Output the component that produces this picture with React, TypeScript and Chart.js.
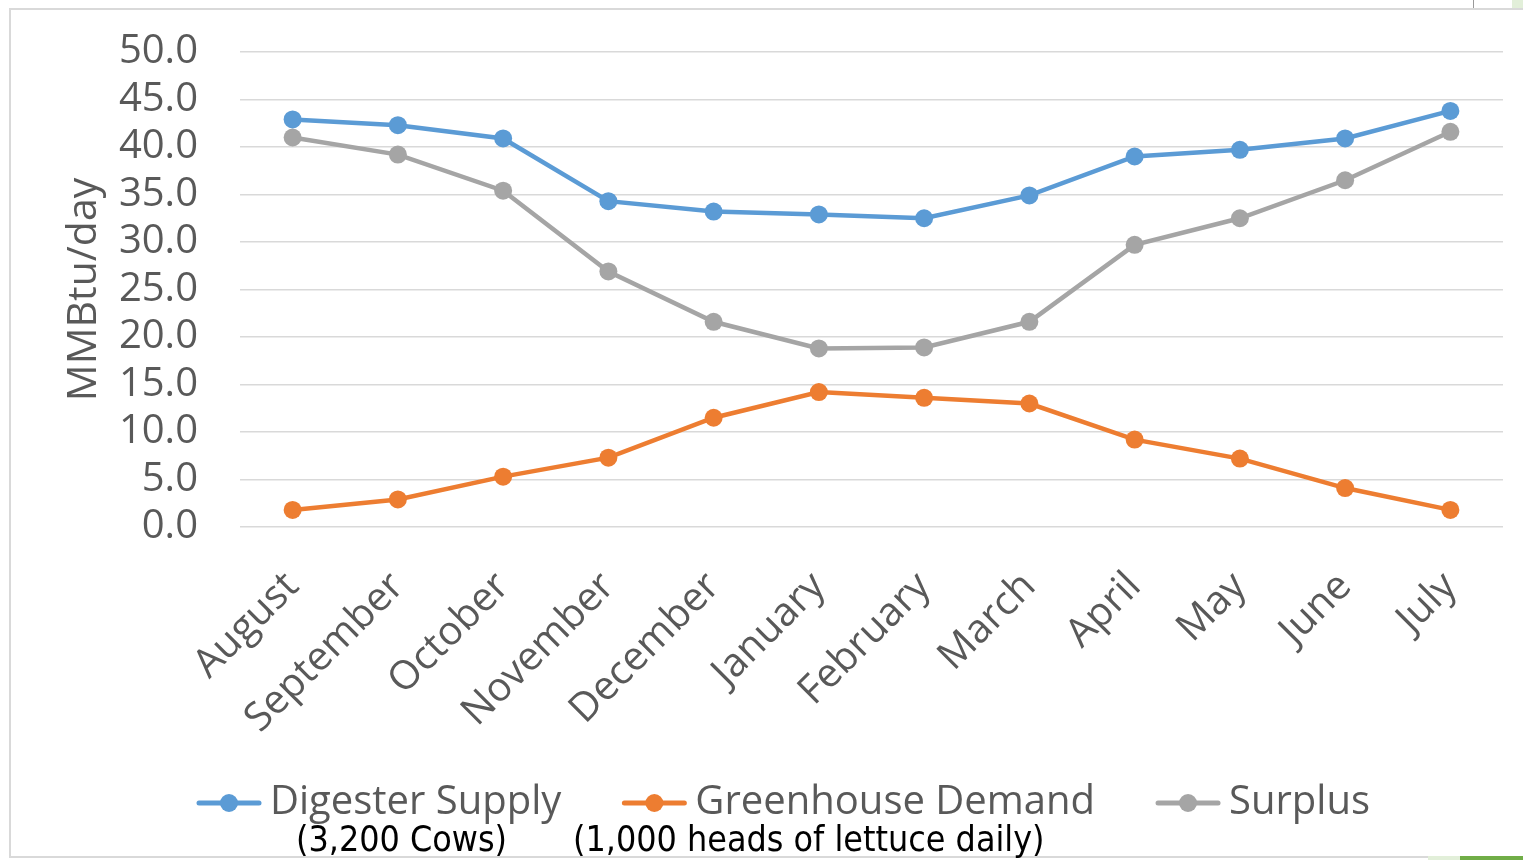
import React, { useEffect, useRef } from "react";
import { Chart, registerables } from "chart.js";

Chart.register(...registerables);

const months = [
  "August", "September", "October", "November", "December", "January",
  "February", "March", "April", "May", "June", "July",
];
const digesterSupply = [42.9, 42.3, 40.9, 34.3, 33.2, 32.9, 32.5, 34.9, 39.0, 39.7, 40.9, 43.8];
const greenhouseDemand = [1.8, 2.9, 5.3, 7.3, 11.5, 14.2, 13.6, 13.0, 9.2, 7.2, 4.1, 1.8];
const surplus = [41.0, 39.2, 35.4, 26.9, 21.6, 18.8, 18.9, 21.6, 29.7, 32.5, 36.5, 41.6];
const seriesNames = ["Digester Supply", "Greenhouse Demand", "Surplus"];
const seriesColors = ["#5B9BD5", "#ED7D31", "#A5A5A5"];
const yTitle = "MMBtu/day";
const footnotes = ["(3,200 Cows)", "(1,000 heads of lettuce daily)"];

const FONT = "'Open Sans', sans-serif";
const TEXT = "#595959";
const SIZE = 40;

// Bottom legend: line-and-dot marker followed by the series name
const lineLegend = {
  id: "lineLegend",
  afterDraw(chart: any) {
    const ctx = chart.ctx as CanvasRenderingContext2D;
    const markerW = 66;
    const gap = 8;
    const spacing = 60;
    const cy = 793;
    ctx.save();
    ctx.font = `${SIZE}px ${FONT}`;
    let x = 186;
    chart.data.datasets.forEach((d: any, i: number) => {
      const color = seriesColors[i];
      ctx.strokeStyle = color;
      ctx.lineWidth = 5;
      ctx.lineCap = "round";
      ctx.beginPath();
      ctx.moveTo(x + 3, cy);
      ctx.lineTo(x + markerW - 3, cy);
      ctx.stroke();
      ctx.fillStyle = color;
      ctx.beginPath();
      ctx.arc(x + markerW / 2, cy, 9, 0, Math.PI * 2);
      ctx.fill();
      ctx.fillStyle = TEXT;
      ctx.textAlign = "left";
      ctx.textBaseline = "middle";
      ctx.fillText(d.label, x + markerW + gap, cy);
      x += markerW + gap + ctx.measureText(d.label).width + spacing;
    });
    ctx.restore();
  },
};

export default function App() {
  const ref = useRef<HTMLCanvasElement | null>(null);

  useEffect(() => {
    const values = [digesterSupply, greenhouseDemand, surplus];
    const chart = new Chart(ref.current!, {
      type: "line",
      data: {
        labels: months,
        datasets: values.map((v, i) => ({
          label: seriesNames[i],
          data: v,
          borderColor: seriesColors[i],
          backgroundColor: seriesColors[i],
          borderWidth: 4.5,
          pointRadius: 9,
          pointBorderWidth: 0,
          pointStyle: "circle",
          tension: 0,
        })),
      },
      options: {
        animation: false,
        responsive: false,
        layout: { padding: { top: 42, right: 10, left: 0, bottom: 28 } },
        plugins: {
          tooltip: { enabled: false },
          legend: { display: false },
        },
        scales: {
          x: {
            offset: true,
            grid: { display: false, drawTicks: false },
            border: { display: false },
            ticks: {
              color: TEXT,
              font: { family: FONT, size: SIZE },
              minRotation: 45,
              maxRotation: 45,
              padding: 36,
              autoSkip: false,
            },
            afterFit: (s: any) => {
              s.height = 300;
              s.paddingLeft = 0;
              s.paddingRight = 0;
            },
          },
          y: {
            min: 0,
            max: 50,
            grid: { color: "#D9D9D9", lineWidth: 1.5, drawTicks: false },
            border: { display: false },
            ticks: {
              stepSize: 5,
              autoSkip: false,
              color: TEXT,
              font: { family: FONT, size: SIZE },
              padding: 42,
              callback: (v: any) => Number(v).toFixed(1),
            },
            title: {
              display: true,
              text: yTitle,
              color: TEXT,
              font: { family: FONT, size: 41 },
              padding: { top: 50, bottom: 0 },
            },
            afterFit: (s: any) => {
              s.width = 230;
              s.paddingTop = 0;
              s.paddingBottom = 0;
            },
          },
        },
      },
      plugins: [lineLegend],
    });
    return () => chart.destroy();
  }, []);

  const noteStyle: React.CSSProperties = {
    position: "absolute",
    top: 818,
    font: `35.5px 'DejaVu Sans Condensed', Lato, sans-serif`,
    color: "#000",
    whiteSpace: "nowrap",
  };

  return (
    <div
      style={{
        position: "absolute",
        left: 0,
        top: 0,
        width: 1523,
        height: 860,
        overflow: "hidden",
        background: "#fff",
      }}
    >
      <div
        style={{
          position: "absolute",
          left: 9,
          top: 8,
          width: 1600,
          height: 846,
          borderTop: "2px solid #D9D9D9",
          borderLeft: "2px solid #D9D9D9",
          borderBottom: "2px solid #D9D9D9",
        }}
      />
      <div style={{ position: "absolute", left: 1473, top: 0, width: 1, height: 8, background: "#999" }} />
      <div style={{ position: "absolute", left: 1512, top: 0, width: 11, height: 8, background: "#E2EFD9" }} />
      <div style={{ position: "absolute", left: 1428, top: 856, width: 32, height: 4, background: "#E2EFD9" }} />
      <div style={{ position: "absolute", left: 1460, top: 856, width: 63, height: 4, background: "#70AD47" }} />
      <canvas
        ref={ref}
        width={1503}
        height={845}
        style={{ position: "absolute", left: 10, top: 10, width: 1503, height: 845 }}
      />
      <div style={{ ...noteStyle, left: 296 }}>{footnotes[0]}</div>
      <div style={{ ...noteStyle, left: 573 }}>{footnotes[1]}</div>
    </div>
  );
}
